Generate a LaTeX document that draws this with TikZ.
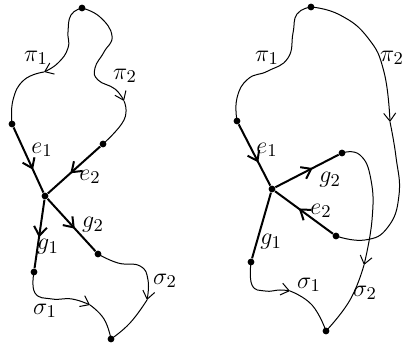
\documentclass[tikz,border=0pt]{standalone}
\usepackage{amsmath}
\usetikzlibrary{arrows.meta,decorations.markings}
\tikzset{
  vtx/.style={circle,fill,inner sep=0pt,minimum size=3.4pt},
  bond/.style={line width=1pt},
  trail/.style={line width=0.5pt},
  barb/.style={-{Straight Barb[length=4pt,width=6pt]}},
  midarr/.style={postaction={decorate},decoration={markings,mark=at position #1 with {\arrow{Straight Barb[length=4.5pt,width=6.5pt]}}}}
}
\begin{document}
\begin{tikzpicture}[x=0.5pt,y=-0.5pt,every node/.style={font=\fontsize{13}{15}\selectfont}]
    \useasboundingbox (0,0) rectangle (402,346);
    \node[vtx] (t1) at (82,8) {};
    \node[vtx] (l1) at (12,124) {};
    \node[vtx] (r1) at (103,144) {};
    \node[vtx] (c1) at (45,196) {};
    \node[vtx] (a1) at (34,272) {};
    \node[vtx] (b1) at (98,254) {};
    \node[vtx] (s1) at (111,339) {};
    \coordinate (m1) at (44,72);
    \coordinate (m2) at (124,101);
    \coordinate (m3) at (90,305);
    \coordinate (m4) at (147,300);
    \draw[trail,barb] plot[smooth,tension=0.8] coordinates {(t1.center) (71,15) (68,32) (68,48) (58,63) (m1)};
    \draw[trail] plot[smooth,tension=0.8] coordinates {(m1) (24,80) (13,100) (l1.center)};
    \draw[trail,barb] plot[smooth,tension=0.8] coordinates {(t1.center) (100,17) (112,36) (104,52) (95,68) (98,80) (115,89) (m2)};
    \draw[trail] plot[smooth,tension=0.8] coordinates {(m2) (124,120) (r1.center)};
    \draw[bond,midarr=0.65] (l1) -- (c1);
    \draw[bond,midarr=0.57] (r1) -- (c1);
    \draw[bond,midarr=0.57] (c1) -- (b1);
    \draw[bond,midarr=0.55] (c1) -- (a1);
    \draw[trail,barb] plot[smooth,tension=0.8] coordinates {(a1.center) (35,293) (52,299) (72,299) (m3)};
    \draw[trail] plot[smooth,tension=0.8] coordinates {(m3) (104,319) (s1.center)};
    \draw[trail,barb] plot[smooth,tension=0.8] coordinates {(b1.center) (118,263) (140,266) (148,280) (m4)};
    \draw[trail] plot[smooth,tension=0.8] coordinates {(m4) (130,323) (s1.center)};
    \node (p1l) at (36,58) {$\pi_1$};
    \node (p2l) at (125,76) {$\pi_2$};
    \node (e1l) at (42,150) {$e_1$};
    \node (e2l) at (90,177) {$e_2$};
    \node (g2l) at (93,225) {$g_2$};
    \node (g1l) at (48,247) {$g_1$};
    \node (s2l) at (165,281) {$\sigma_2$};
    \node (s1l) at (45,311) {$\sigma_1$};

    \node[vtx] (t2) at (311,7) {};
    \node[vtx] (l2) at (237,121) {};
    \node[vtx] (c2) at (272,189) {};
    \node[vtx] (b2) at (342,153) {};
    \node[vtx] (r2) at (336,236) {};
    \node[vtx] (a2) at (251,262) {};
    \node[vtx] (s2) at (326,331) {};
    \coordinate (n1) at (390,122);
    \coordinate (n2) at (290,291);
    \coordinate (n3) at (364,265);
    \draw[trail] plot[smooth,tension=0.8] coordinates {(t2.center) (297,14) (293,33) (288,58) (268,71) (248,79) (237,98) (l2.center)};
    \draw[trail,barb] plot[smooth,tension=0.8] coordinates {(t2.center) (340,15) (368,38) (384,72) (n1)};
    \draw[trail] plot[smooth,tension=0.8] coordinates {(n1) (396,157) (399,195) (388,227) (365,240) (r2.center)};
    \draw[bond,midarr=0.62] (l2) -- (c2);
    \draw[bond,midarr=0.59] (c2) -- (b2);
    \draw[bond,midarr=0.59] (r2) -- (c2);
    \draw[bond] (c2) -- (a2);
    \draw[trail,barb] plot[smooth,tension=0.8] coordinates {(a2.center) (252,285) (265,291) (280,290) (n2)};
    \draw[trail] plot[smooth,tension=0.8] coordinates {(n2) (312,305) (s2.center)};
    \draw[trail,barb] plot[smooth,tension=0.8] coordinates {(b2.center) (360,155) (371,180) (372,220) (n3)};
    \draw[trail] plot[smooth,tension=0.8] coordinates {(n3) (350,300) (s2.center)};
    \node (p1r) at (267,58) {$\pi_1$};
    \node (p2r) at (392,58) {$\pi_2$};
    \node (e1r) at (267,150) {$e_1$};
    \node (g2r) at (330,180) {$g_2$};
    \node (e2r) at (321,211) {$e_2$};
    \node (g1r) at (271,242) {$g_1$};
    \node (s1r) at (309,285) {$\sigma_1$};
    \node (s2r) at (365,293) {$\sigma_2$};
  \end{tikzpicture}
\end{document}
